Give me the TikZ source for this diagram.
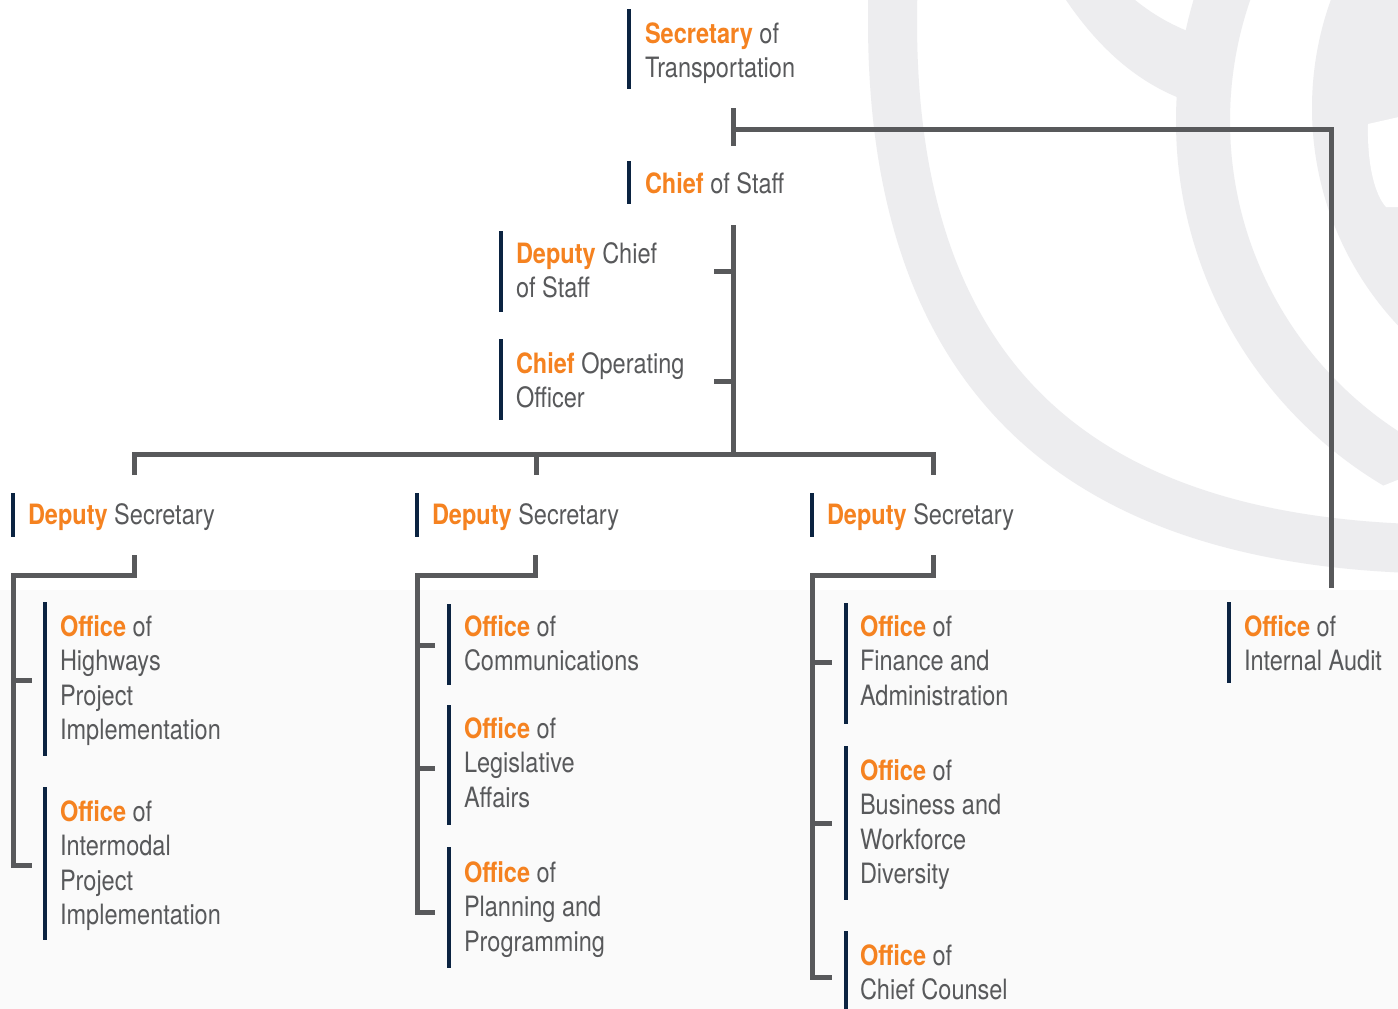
\documentclass[tikz,border=0pt]{standalone}
\usepackage{fontspec}
\setmainfont{TeX Gyre Heros}[FakeStretch=0.84]
\definecolor{orng}{HTML}{F58220}
\definecolor{txtg}{HTML}{58595B}
\definecolor{navy}{HTML}{0B2341}
\definecolor{lineg}{HTML}{58595B}
\definecolor{wm}{HTML}{EDEDEF}
\definecolor{lowbg}{HTML}{FAFAFA}
\newcommand{\orn}[1]{{\bfseries\color{orng}#1}}
\newcommand{\lns}[1]{\vtop{\fontsize{28}{34.4}\selectfont\halign{##\hfil\cr #1\crcr}}}
\tikzset{
  lbl/.style={anchor=base west, inner sep=0pt, outer sep=0pt, text=txtg},
  navbar/.style={draw=navy, line width=4pt},
  conn/.style={draw=lineg, line width=5pt, line join=miter, line cap=butt},
}
\begin{document}
\begin{tikzpicture}[x=1pt,y=-1pt]
\useasboundingbox (0,0) rectangle (1398,1009);
\fill[white] (0,0) rectangle (1398,1009);
\fill[lowbg] (0,590) rectangle (1398,1009);
% watermark
\begin{scope}
\clip (0,0) rectangle (1398,1009);
\draw[wm, line width=49pt] (894,-30) -- (893,-10) .. controls (882,360) and (1060,532) .. (1400,548) -- (1440,551);
\draw[wm, line width=54pt] (1600,121) circle[radius=397];
\fill[wm] (1630,108) circle[radius=318];
\fill[white] (1368,124) -- (1399,117) -- (1399,207) -- (1386,207) .. controls (1375,195) and (1367,165) .. (1368,124) -- cycle;
\fill[white] (1380,487) -- (1400,479) -- (1400,508) -- (1380,508) -- cycle;
\fill[wm] (1066,0) .. controls (1100,50) and (1140,85) .. (1190,102) -- (1195,34) .. controls (1168,24) and (1150,12) .. (1135,0) -- cycle;
\end{scope}

% labels
\node[lbl] (sec) at (645,43.5) {\lns{\orn{Secretary} of\cr Transportation}};
\node[lbl] (cos) at (645,193.5) {\lns{\orn{Chief} of Staff}};
\node[lbl] (dcos) at (516,263.5) {\lns{\orn{Deputy} Chief\cr of Staff}};
\node[lbl] (coo) at (516,373) {\lns{\orn{Chief} Operating\cr Officer}};
\node[lbl] (dsa) at (28,524.5) {\lns{\orn{Deputy} Secretary}};
\node[lbl] (dsb) at (432,524.5) {\lns{\orn{Deputy} Secretary}};
\node[lbl] (dsc) at (827,524.5) {\lns{\orn{Deputy} Secretary}};
\node[lbl] (hw) at (60,636.5) {\lns{\orn{Office} of\cr Highways\cr Project\cr Implementation}};
\node[lbl] (im) at (60,821.5) {\lns{\orn{Office} of\cr Intermodal\cr Project\cr Implementation}};
\node[lbl] (com) at (464,636.5) {\lns{\orn{Office} of\cr Communications}};
\node[lbl] (leg) at (464,738.5) {\lns{\orn{Office} of\cr Legislative\cr Affairs}};
\node[lbl] (plan) at (464,882.5) {\lns{\orn{Office} of\cr Planning and\cr Programming}};
\node[lbl] (fin) at (860,636.5) {\lns{\orn{Office} of\cr Finance and\cr Administration}};
\node[lbl] (bus) at (860,780.5) {\lns{\orn{Office} of\cr Business and\cr Workforce\cr Diversity}};
\node[lbl] (cc) at (860,965.5) {\lns{\orn{Office} of\cr Chief Counsel}};
\node[lbl] (ia) at (1244,636.5) {\lns{\orn{Office} of\cr Internal Audit}};

% navy bars
\draw[navbar] (629,9) -- (629,89);
\draw[navbar] (629,161) -- (629,204);
\draw[navbar] (501,231) -- (501,312);
\draw[navbar] (501,339) -- (501,420);
\draw[navbar] (13,493) -- (13,537);
\draw[navbar] (417,493) -- (417,537);
\draw[navbar] (812,493) -- (812,537);
\draw[navbar] (45,602) -- (45,756);
\draw[navbar] (45,787) -- (45,940);
\draw[navbar] (449,604) -- (449,685);
\draw[navbar] (449,705) -- (449,825);
\draw[navbar] (449,847) -- (449,968);
\draw[navbar] (846,603) -- (846,724);
\draw[navbar] (846,746) -- (846,900);
\draw[navbar] (846,931) -- (846,1012);
\draw[navbar] (1229,602) -- (1229,683);

% connector coordinates
\coordinate (secT1) at (733,108);
\coordinate (secT2) at (733,146);
\coordinate (secJ) at (733,129);
\coordinate (auCor) at (1331,129);
\coordinate (auEnd) at (1331,588);
\coordinate (cosTop) at (733,225);
\coordinate (cosBot) at (733,454);
\coordinate (dcosT) at (714,271);
\coordinate (cooT) at (714,381);
\coordinate (hL) at (134,454);
\coordinate (hM) at (536,454);
\coordinate (hR) at (933,454);
\coordinate (dLa) at (134,475);
\coordinate (dLb) at (536,475);
\coordinate (dLc) at (933,475);

\draw[conn] (secT1) -- (secT2);
\draw[conn] (secJ) -- (auCor) -- (auEnd);
\draw[conn] (cosTop) -- (cosBot);
\draw[conn] (dcosT) -- (dcosT -| cosTop);
\draw[conn] (cooT) -- (cooT -| cosTop);
\draw[conn] (dLa) -- (hL) -- (hR) -- (dLc);
\draw[conn] (hM) -- (dLb);

% deputy secretary 1
\coordinate (aTop) at (134,555);
\coordinate (aCor) at (134,575.5);
\coordinate (aLeft) at (13.5,575.5);
\coordinate (aBot) at (13.5,865);
\coordinate (aFoot) at (32,865);
\coordinate (aT1) at (13.5,680.5);
\draw[conn] (aTop) -- (aCor) -- (aLeft) -- (aBot) -- (aFoot);
\draw[conn] (aT1) -- ++(18.5,0);

% deputy secretary 2
\coordinate (bTop) at (535.5,555);
\coordinate (bCor) at (535.5,575.5);
\coordinate (bLeft) at (417.5,575.5);
\coordinate (bBot) at (417.5,912);
\coordinate (bFoot) at (435,912);
\coordinate (bT1) at (417.5,645.5);
\coordinate (bT2) at (417.5,768);
\draw[conn] (bTop) -- (bCor) -- (bLeft) -- (bBot) -- (bFoot);
\draw[conn] (bT1) -- ++(17.5,0);
\draw[conn] (bT2) -- ++(17.5,0);

% deputy secretary 3
\coordinate (cTop) at (933,555);
\coordinate (cCor) at (933,575.5);
\coordinate (cLeft) at (812,575.5);
\coordinate (cBot) at (812,977.5);
\coordinate (cFoot) at (832,977.5);
\coordinate (cT1) at (812,662);
\coordinate (cT2) at (812,823);
\draw[conn] (cTop) -- (cCor) -- (cLeft) -- (cBot) -- (cFoot);
\draw[conn] (cT1) -- ++(20,0);
\draw[conn] (cT2) -- ++(20,0);
\end{tikzpicture}
\end{document}
